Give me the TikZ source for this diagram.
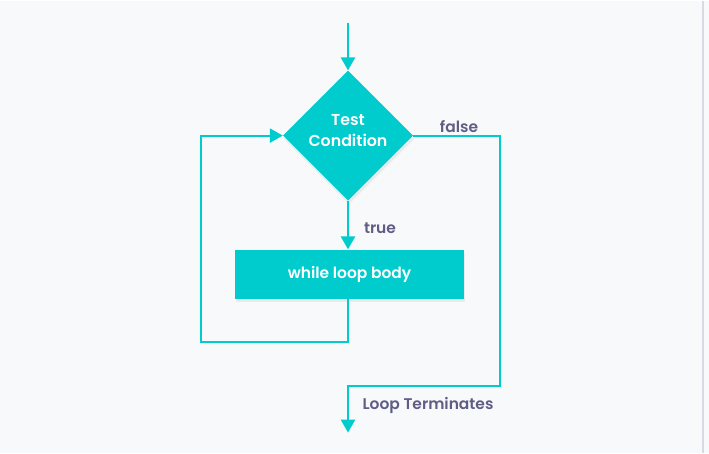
\documentclass[tikz,border=0pt]{standalone}
\usepackage{fontspec}
\setmainfont{Poppins}[BoldFont={* SemiBold}]
\usepackage{xcolor}
\usetikzlibrary{shapes.geometric,arrows.meta,shadows}
\definecolor{teal}{RGB}{0,204,206}
\definecolor{labelcol}{RGB}{94,93,134}
\definecolor{bgcol}{RGB}{248,249,251}
\definecolor{edgecol}{RGB}{214,219,226}

\begin{document}
\begin{tikzpicture}[x=0.03cm,y=-0.03cm,
	flow/.style={draw=teal,line width=1.8pt,-{Triangle[length=11pt,width=12pt]}},
	decision/.style={diamond,fill=teal,aspect=1,minimum width=3.9cm,minimum height=3.9cm,inner sep=0pt,
		text=white,font=\fontsize{13.5}{17.5}\selectfont\bfseries,align=center,
		drop shadow={opacity=0.12,shadow xshift=1pt,shadow yshift=-3pt}},
	process/.style={rectangle,fill=teal,minimum width=6.87cm,minimum height=1.47cm,inner sep=0pt,
		text=white,font=\fontsize{13.2}{15}\selectfont\bfseries,
		drop shadow={opacity=0.12,shadow xshift=1pt,shadow yshift=-3pt}},
	lbl/.style={text=labelcol,font=\fontsize{13.2}{15}\selectfont\bfseries}]
		% background
		\fill[bgcol] (0,0) rectangle (709,452);
		\draw[edgecol,line width=1pt] (703,0) -- (703,452);
		%
		\coordinate (start) at (348,22);
		\node[decision] (cond) at (348,135) {};
		\node[text=white,font=\fontsize{13.5}{17.5}\selectfont\bfseries,align=center] (condtxt) at (348,130) {Test\\Condition};
		\node[process] (body) at (349.5,273.5) {while loop body};
		\coordinate (loopL) at (201,341);
		\coordinate (falseR) at (500,385);
		\coordinate (stop) at (348,432);
		%
		\draw[flow] (start) -- (cond.north);
		\draw[flow] (cond.south) -- (cond.south |- body.north);
		\draw[flow] (body.south -| cond.south) |- (loopL) |- (cond.west);
		\draw[flow] (cond.east) -| (falseR) -| (stop);
		%
		\node[lbl] (falselbl) at (459,126) {false};
		\node[lbl] (truelbl) at (380,228) {true};
		\node[lbl] (termlbl) at (428,405) {Loop Terminates};
\end{tikzpicture}
\end{document}
